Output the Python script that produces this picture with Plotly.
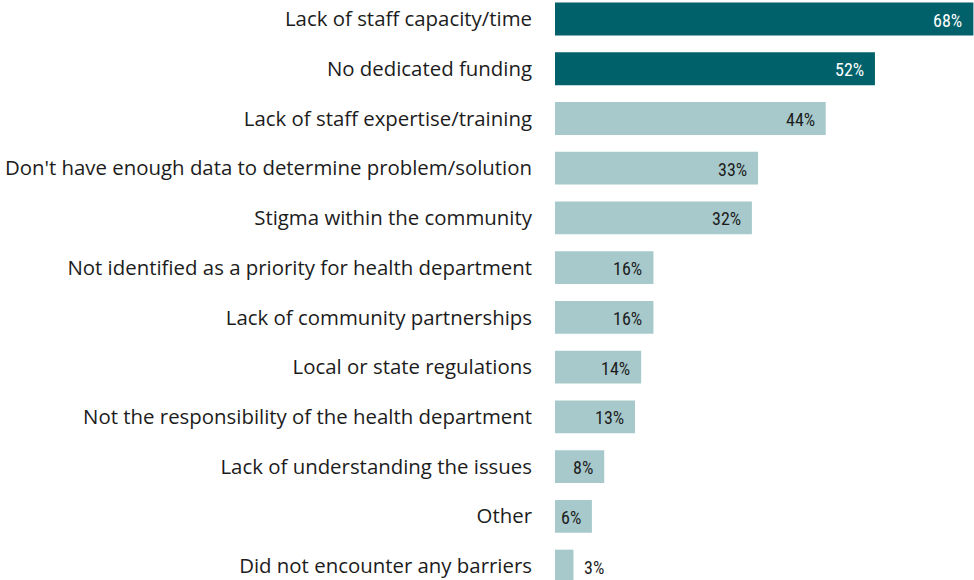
import plotly.graph_objects as go

categories = [
    "Lack of staff capacity/time",
    "No dedicated funding",
    "Lack of staff expertise/training",
    "Don't have enough data to determine problem/solution",
    "Stigma within the community",
    "Not identified as a priority for health department",
    "Lack of community partnerships",
    "Local or state regulations",
    "Not the responsibility of the health department",
    "Lack of understanding the issues",
    "Other",
    "Did not encounter any barriers",
]
values = [68, 52, 44, 33, 32, 16, 16, 14, 13, 8, 6, 3]
highlight = [True, True] + [False] * 10

DARK = "#00616a"
LIGHT = "#a7c9cb"
TEXT = "#1c1c1c"
LABEL_FONT = "Liberation Sans Narrow, Roboto Condensed, Arial Narrow, sans-serif"

colors = [DARK if h else LIGHT for h in highlight]

fig = go.Figure(
    go.Bar(
        x=values,
        y=categories,
        orientation="h",
        marker=dict(color=colors, line=dict(width=0)),
        width=0.66,
        hoverinfo="skip",
    )
)

# value labels: inside the bar end, except for very short bars
for cat, v, h in zip(categories, values, highlight):
    inside = v >= 5
    fig.add_annotation(
        x=v,
        y=cat,
        text=f"{v}%",
        showarrow=False,
        xanchor="right" if inside else "left",
        xshift=-9 if inside else 9,
        yshift=-1,
        font=dict(family=LABEL_FONT, size=18, color="white" if h else TEXT),
    )

fig.update_layout(
    width=974,
    height=580,
    margin=dict(l=555, r=0, t=0, b=0),
    paper_bgcolor="white",
    plot_bgcolor="white",
    showlegend=False,
    xaxis=dict(
        range=[0, 68.1],
        visible=False,
        fixedrange=True,
    ),
    yaxis=dict(
        type="category",
        categoryorder="array",
        categoryarray=categories,
        range=[11.28, -0.382],
        showgrid=False,
        showline=False,
        zeroline=False,
        ticks="",
        ticklabelstandoff=22,
        tickfont=dict(family="Open Sans, Noto Sans, sans-serif", size=20.4, color=TEXT),
        fixedrange=True,
    ),
)

fig.write_html("out.html")
